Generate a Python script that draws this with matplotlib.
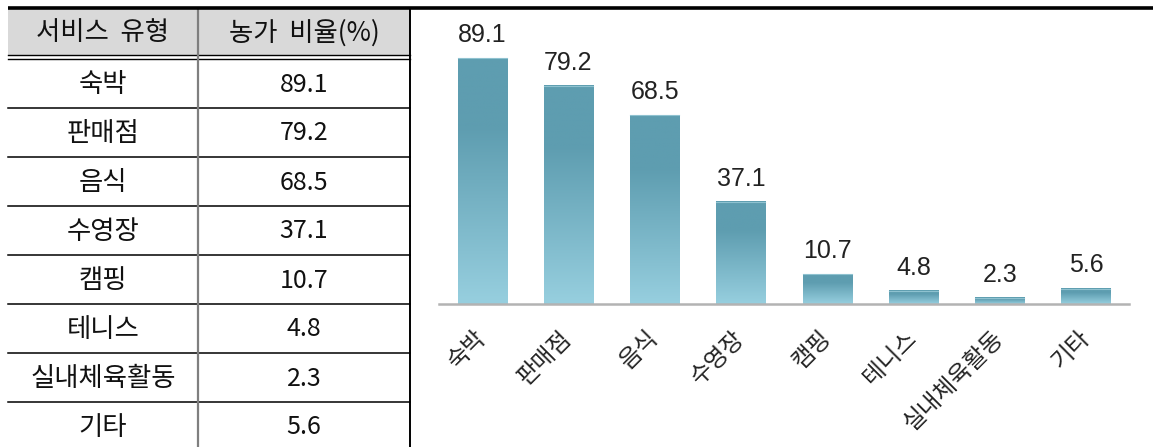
import numpy as np
import matplotlib
matplotlib.use("Agg")
import matplotlib.pyplot as plt
from matplotlib.colors import LinearSegmentedColormap

# data
categories = ["숙박", "판매점", "음식", "수영장", "캠핑", "테니스", "실내체육활동", "기타"]
values = [89.1, 79.2, 68.5, 37.1, 10.7, 4.8, 2.3, 5.6]
header = ["서비스 유형", "농가 비율(%)"]

W, H = 1153, 447
KR = ["Noto Sans CJK KR", "DejaVu Sans"]

fig = plt.figure(figsize=(W / 100, H / 100), dpi=100)

# ---- table drawn in pixel space
tab = fig.add_axes([0, 0, 1, 1])
tab.set_xlim(0, W)
tab.set_ylim(H, 0)
tab.axis("off")

TL, TM, TR = 8, 198, 410
HEAD_TOP, HEAD_BOT = 9, 55
ROW0, ROW_H = 59, 49

tab.add_patch(plt.Rectangle((TL, HEAD_TOP), TR - TL, HEAD_BOT - HEAD_TOP,
                            facecolor="#d9d9d9", edgecolor="none", zorder=0))
tab.plot([TL, W], [8, 8], color="black", lw=2.6, solid_capstyle="butt", zorder=3)
tab.plot([TL, TR], [HEAD_BOT, HEAD_BOT], color="black", lw=1.0)
tab.plot([TL, TR], [ROW0, ROW0], color="black", lw=1.0)
for i in range(1, len(categories)):
    y = ROW0 + i * ROW_H
    tab.plot([TL, TR], [y, y], color="black", lw=1.1)
tab.plot([TM, TM], [HEAD_TOP, H], color="#7f7f7f", lw=1.6)
tab.plot([TR, TR], [HEAD_TOP, H], color="black", lw=1.4)

hy = (HEAD_TOP + HEAD_BOT) / 2 + 1
tab.text((TL + TM) / 2, hy, header[0].replace(" ", "  "), family=KR, fontsize=19,
         ha="center", va="center", color="#111111")
tab.text((TM + TR) / 2, hy, header[1].replace(" ", "  "), family=KR, fontsize=19,
         ha="center", va="center", color="#111111")
for i, (c, v) in enumerate(zip(categories, values)):
    y = ROW0 + i * ROW_H + ROW_H / 2 + 1
    tab.text((TL + TM) / 2, y, c, family=KR, fontsize=19,
             ha="center", va="center", color="#111111")
    tab.text((TM + TR) / 2, y, f"{v}", family=KR, fontsize=18,
             ha="center", va="center", color="#111111")

# ---- bar chart
ax = fig.add_axes([439 / W, (H - 304) / H, (1129 - 439) / W, (304 - 20) / H])
x = np.arange(len(categories))
bars = ax.bar(x, values, width=0.57, color="none", edgecolor="none", zorder=2)

cmap = LinearSegmentedColormap.from_list(
    "teal", [(0.0, "#97cfdf"), (0.72, "#5e9db0"), (1.0, "#5e9db0")])
grad = np.linspace(0, 1, 256).reshape(-1, 1)
for b in bars:
    x0, w, h = b.get_x(), b.get_width(), b.get_height()
    ax.imshow(grad, cmap=cmap, origin="lower", aspect="auto",
              extent=(x0, x0 + w, 0, h), zorder=2)
    ax.plot([x0, x0 + w], [h, h], color="#8fc2d0", lw=0.8, zorder=3)
    ax.annotate(f"{h}", (x0 + w / 2, h), xytext=(0, 8), textcoords="offset points",
                ha="center", va="bottom", fontsize=18, color="#222222",
                family="Liberation Sans")

ax.set_xlim(-0.5, len(categories) - 0.5)
ax.set_ylim(0, 103)
ax.set_yticks([])
ax.set_xticks(x)
ax.set_xticklabels(categories, rotation=45, ha="right", va="center",
                   rotation_mode="anchor", family=KR, fontsize=17, color="#222222")
ax.tick_params(axis="x", length=0, pad=22)
for s in ["top", "left", "right"]:
    ax.spines[s].set_visible(False)
ax.spines["bottom"].set_color("#b3b3b3")
ax.spines["bottom"].set_linewidth(1.8)
ax.patch.set_alpha(0)

fig.savefig("out.png", dpi=100)
